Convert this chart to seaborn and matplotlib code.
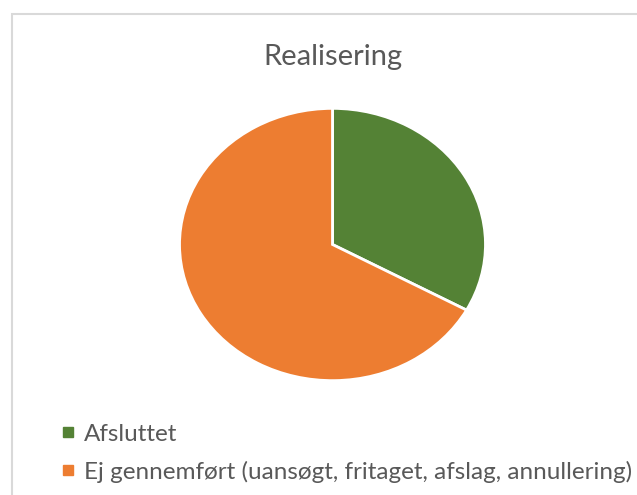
import matplotlib
matplotlib.use("Agg")
import matplotlib.pyplot as plt
from matplotlib.patches import Rectangle
from matplotlib.lines import Line2D
import seaborn as sns

# Data
categories = ["Afsluttet", "Ej gennemført (uansøgt, fritaget, afslag, annullering)"]
values = [33, 67]
colors = ["#548235", "#ED7D31"]
title = "Realisering"

sns.set_style("white")
plt.rcParams["font.family"] = ["Lato", "DejaVu Sans"]

W, H = 637, 495
fig = plt.figure(figsize=(W / 100, H / 100), dpi=100)

# Chart frame (runs off the right and bottom edges)
fig.patches.append(Rectangle((12 / W, -0.1), 1.2, 1.1 - 14 / H, transform=fig.transFigure,
                             fill=False, edgecolor="#d9d9d9", linewidth=1.5))

# Pie (slightly stretched horizontally, as in the reference)
ax = fig.add_axes([178 / W, (H - 382) / H, 309 / W, 275 / H])
ax.pie(values, colors=colors, startangle=90, counterclock=False,
       wedgeprops=dict(edgecolor="white", linewidth=2))
ax.set_aspect("auto")
ax.set_xlim(-1.01, 1.01)
ax.set_ylim(-1.01, 1.01)
ax.axis("off")

fig.text(333 / W, 1 - 57 / H, title, ha="center", va="center",
         fontsize=21, color="#595959")

# Legend
handles = [Line2D([], [], marker="s", linestyle="none", markersize=7,
                  markerfacecolor=c, markeredgecolor=c) for c in colors]
fig.legend(handles, categories, loc="upper left",
           bbox_to_anchor=(40 / W, 1 - 402 / H), frameon=False,
           fontsize=17.5, labelcolor="#595959", handlelength=0.5,
           handletextpad=0.4, labelspacing=0.65)

fig.savefig("out.png", dpi=100)
